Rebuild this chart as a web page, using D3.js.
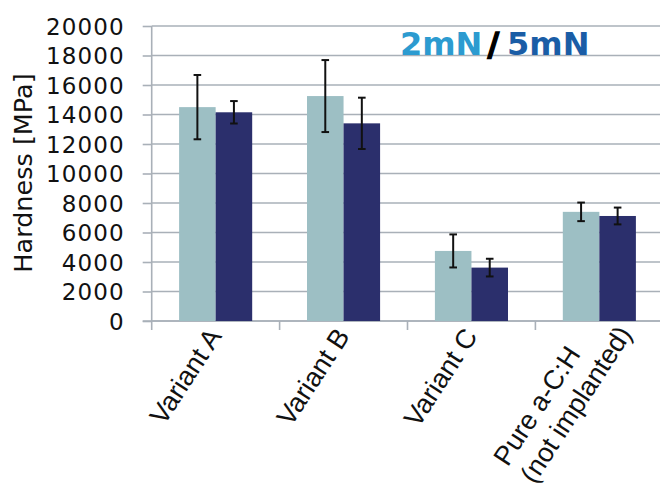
<!DOCTYPE html>
<html>
<head>
<meta charset="utf-8">
<script src="https://cdn.jsdelivr.net/npm/d3@7"></script>
<style>
  html, body { margin: 0; padding: 0; background: #ffffff; }
  svg { display: block; }
</style>
</head>
<body>
<svg id="chart" width="660" height="489"></svg>
<script>
// Hardness of implanted a-C:H films, nanoindentation at two loads
const categories = ["Variant A", "Variant B", "Variant C", "Pure a-C:H\n(not implanted)"];
const seriesNames = ["2mN", "5mN"];
const hardness2mN = [14500, 15250, 4750, 7400];
const error2mN = [2180, 2440, 1120, 630];
const hardness5mN = [14150, 13400, 3620, 7120];
const error5mN = [760, 1740, 600, 570];
const yTicks = [0, 2000, 4000, 6000, 8000, 10000, 12000, 14000, 16000, 18000, 20000];
const yTitle = "Hardness [MPa]";

const colors = { "2mN": "#9dbfc4", "5mN": "#2b2f6c" };
const legendColors = { "2mN": "#2c9bd0", "5mN": "#1a5da6" };
const gridColor = "#a9b0b8";

const svg = d3.select("#chart");
const plotLeft = 151.7, plotTop = 26, plotBottom = 321, plotRight = 663.3;

const x = d3.scaleBand().domain(categories).range([plotLeft, plotRight]).padding(0);
const xs = d3.scaleBand().domain(seriesNames).range([0, x.bandwidth()]).paddingInner(0).paddingOuter(0.75);
const y = d3.scaleLinear().domain([0, 20000]).range([plotBottom, plotTop]);

const rows = categories.map((c, i) => ({
  cat: c,
  vals: [
    { s: "2mN", v: hardness2mN[i], e: error2mN[i] },
    { s: "5mN", v: hardness5mN[i], e: error5mN[i] }
  ]
}));

// horizontal gridlines
svg.append("g").selectAll("line").data(yTicks).join("line")
  .attr("x1", plotLeft).attr("x2", 660)
  .attr("y1", d => y(d)).attr("y2", d => y(d))
  .attr("stroke", gridColor).attr("stroke-width", 1.6);

// y axis with outside ticks
const yAxis = svg.append("g").attr("transform", `translate(${plotLeft},0)`)
  .call(d3.axisLeft(y).tickValues(yTicks).tickSize(9).tickPadding(18).tickFormat(d3.format("d")));
yAxis.select(".domain").attr("stroke", gridColor).attr("stroke-width", 1.6)
  .attr("d", `M0,${plotTop}V${plotBottom}`);
yAxis.selectAll(".tick line").attr("stroke", gridColor).attr("stroke-width", 1.6);
yAxis.selectAll(".tick text")
  .attr("font-family", "DejaVu Sans").attr("font-size", 23).attr("fill", "#111")
  .attr("letter-spacing", "1.1px").attr("dy", "0.36em");

// x axis baseline and category boundary ticks
const bounds = categories.map(c => x(c)).concat([x(categories[categories.length - 1]) + x.bandwidth()]);
svg.append("line").attr("x1", plotLeft - 9).attr("x2", 660)
  .attr("y1", y(0)).attr("y2", y(0))
  .attr("stroke", gridColor).attr("stroke-width", 1.6);
svg.append("g").selectAll("line").data(bounds).join("line")
  .attr("x1", d => d).attr("x2", d => d)
  .attr("y1", y(0)).attr("y2", y(0) + 9)
  .attr("stroke", gridColor).attr("stroke-width", 1.6);

// bars
const groups = svg.append("g").selectAll("g").data(rows).join("g")
  .attr("transform", d => `translate(${x(d.cat)},0)`);
groups.selectAll("rect").data(d => d.vals).join("rect")
  .attr("x", d => xs(d.s)).attr("width", xs.bandwidth())
  .attr("y", d => y(d.v)).attr("height", d => y(0) - y(d.v))
  .attr("fill", d => colors[d.s]);

// error bars
const eb = groups.selectAll("g.err").data(d => d.vals).join("g").attr("class", "err")
  .attr("transform", d => `translate(${xs(d.s) + xs.bandwidth() / 2},0)`);
eb.append("line").attr("x1", 0).attr("x2", 0)
  .attr("y1", d => y(d.v + d.e)).attr("y2", d => y(d.v - d.e))
  .attr("stroke", "#111").attr("stroke-width", 2);
eb.selectAll("line.cap").data(d => [d.v + d.e, d.v - d.e]).join("line").attr("class", "cap")
  .attr("x1", -3.8).attr("x2", 3.8)
  .attr("y1", d => y(d)).attr("y2", d => y(d))
  .attr("stroke", "#111").attr("stroke-width", 2);

// rotated category labels; multi-line labels are left-aligned with the
// longest line ending at the anchor
const labelSize = 27, lineH = 32;
const labels = svg.append("g").selectAll("g").data(categories).join("g")
  .attr("transform", c => {
    const multi = c.includes("\n");
    const cx = x(c) + x.bandwidth() / 2;
    return multi
      ? `translate(${cx + 12},${y(0) - 1}) rotate(-57)`
      : `translate(${cx - 1},${y(0) + 10}) rotate(-57)`;
  });
labels.each(function (c) {
  const g = d3.select(this);
  const lines = c.split("\n");
  const texts = lines.map((t, i) => g.append("text")
    .attr("font-family", "'Liberation Sans', Arial, sans-serif")
    .attr("font-size", labelSize).attr("fill", "#111")
    .attr("dy", "0.35em")
    .attr("y", (i - (lines.length - 1) / 2) * lineH)
    .text(t));
  const maxW = d3.max(texts, t => t.node().getComputedTextLength());
  texts.forEach(t => t.attr("text-anchor", "start").attr("x", -maxW));
});

// y axis title
svg.append("text")
  .attr("transform", "translate(32,173) rotate(-90)")
  .attr("text-anchor", "middle")
  .attr("font-family", "DejaVu Sans").attr("font-size", 25.5).attr("fill", "#111")
  .text(yTitle);

// load legend: 2mN / 5mN
const legendFont = { family: "DejaVu Sans", size: 32 };
const legendParts = [
  { text: seriesNames[0], fill: legendColors["2mN"], gap: 0, stroke: 0 },
  { text: "/", fill: "#000", gap: 5, stroke: 1.4 },
  { text: seriesNames[1], fill: legendColors["5mN"], gap: 8, stroke: 0 }
];
let legendX = 400;
legendParts.forEach(p => {
  legendX += p.gap;
  const t = svg.append("text")
    .attr("x", legendX).attr("y", 55)
    .attr("font-family", legendFont.family).attr("font-weight", "bold")
    .attr("font-size", legendFont.size).attr("fill", p.fill)
    .attr("stroke", p.stroke ? p.fill : "none").attr("stroke-width", p.stroke)
    .text(p.text);
  legendX += t.node().getComputedTextLength();
});
</script>
</body>
</html>
